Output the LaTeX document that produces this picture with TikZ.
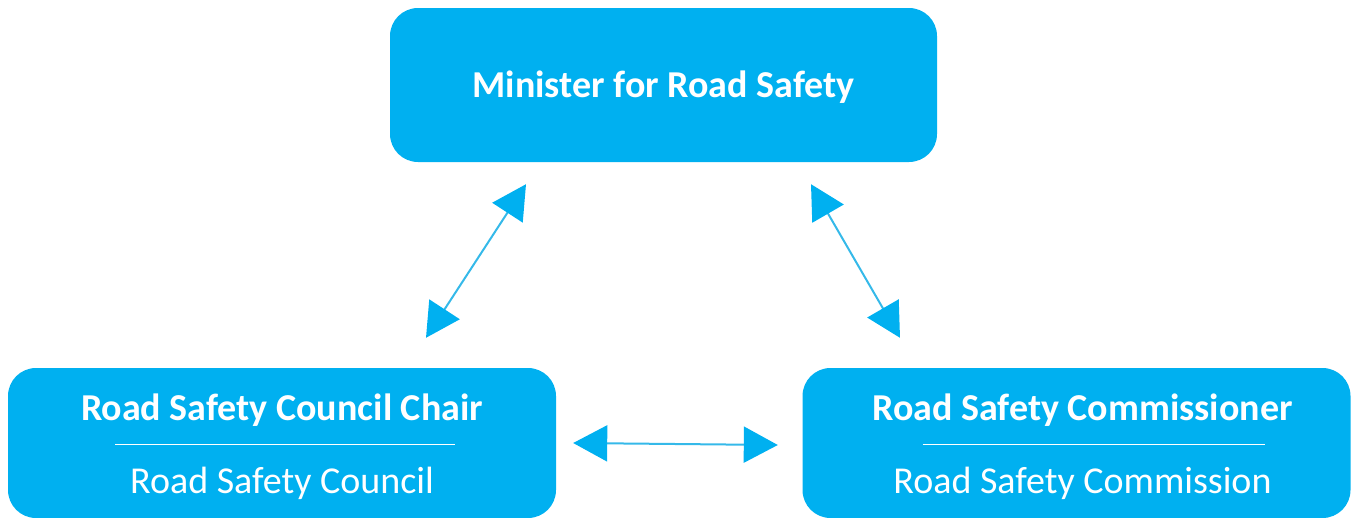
\documentclass[tikz,border=0pt]{standalone}
\usepackage{fontspec}
\setmainfont{Carlito}
\usetikzlibrary{positioning,arrows.meta,calc}
\definecolor{boxblue}{HTML}{00B0F0}
\definecolor{lineblue}{HTML}{35B9E9}
\tikzstyle{post}=[draw=none, fill=boxblue, rounded corners=28pt, text=white, align=center, font=\fontsize{38}{36.5}\selectfont, inner sep=0pt]
\tikzstyle{link}=[lineblue, line width=2pt, {Triangle[length=34pt,width=36pt,boxblue]}-{Triangle[length=34pt,width=36pt,boxblue]}]
\newcommand{\sepline}[1]{\rule[11.5pt]{#1}{1.2pt}}

\begin{document}
\begin{tikzpicture}[x=1pt,y=-1pt,node distance=2.5cm,on grid]
   \useasboundingbox (0,0) rectangle (1355,517);
   \node[post,minimum width=547pt,minimum height=154pt,text height=24.5pt,text depth=0pt] (minister) at (663.5,85) {\bfseries Minister for Road Safety};
   \node[post,minimum width=548pt,minimum height=150pt,text height=100pt,text depth=0pt] (council) [below left=358pt and 381.5pt of minister]
      {\bfseries Road Safety Council Chair\\ \hspace*{6pt}\sepline{340pt}\\ Road Safety Council};
   \node[post,minimum width=548pt,minimum height=150pt,text height=100pt,text depth=0pt] (commissioner) [right=794.5pt of council]
      {\hspace*{12pt}\bfseries Road Safety Commissioner\\ \hspace*{34pt}\sepline{342pt}\\ \hspace*{12pt}Road Safety Commission};
   %% arrows between the posts
   \draw[link] ([shift={(144,-30)}]council.north) -- ([shift={(-137.5,22)}]minister.south);
   \draw[link] ([shift={(147.5,22)}]minister.south) -- ([shift={(-176.5,-30)}]commissioner.north);
   \draw[link] ([shift={(17,0)}]council.east) -- ([shift={(-24.5,2)}]commissioner.west);
\end{tikzpicture}
\end{document}
